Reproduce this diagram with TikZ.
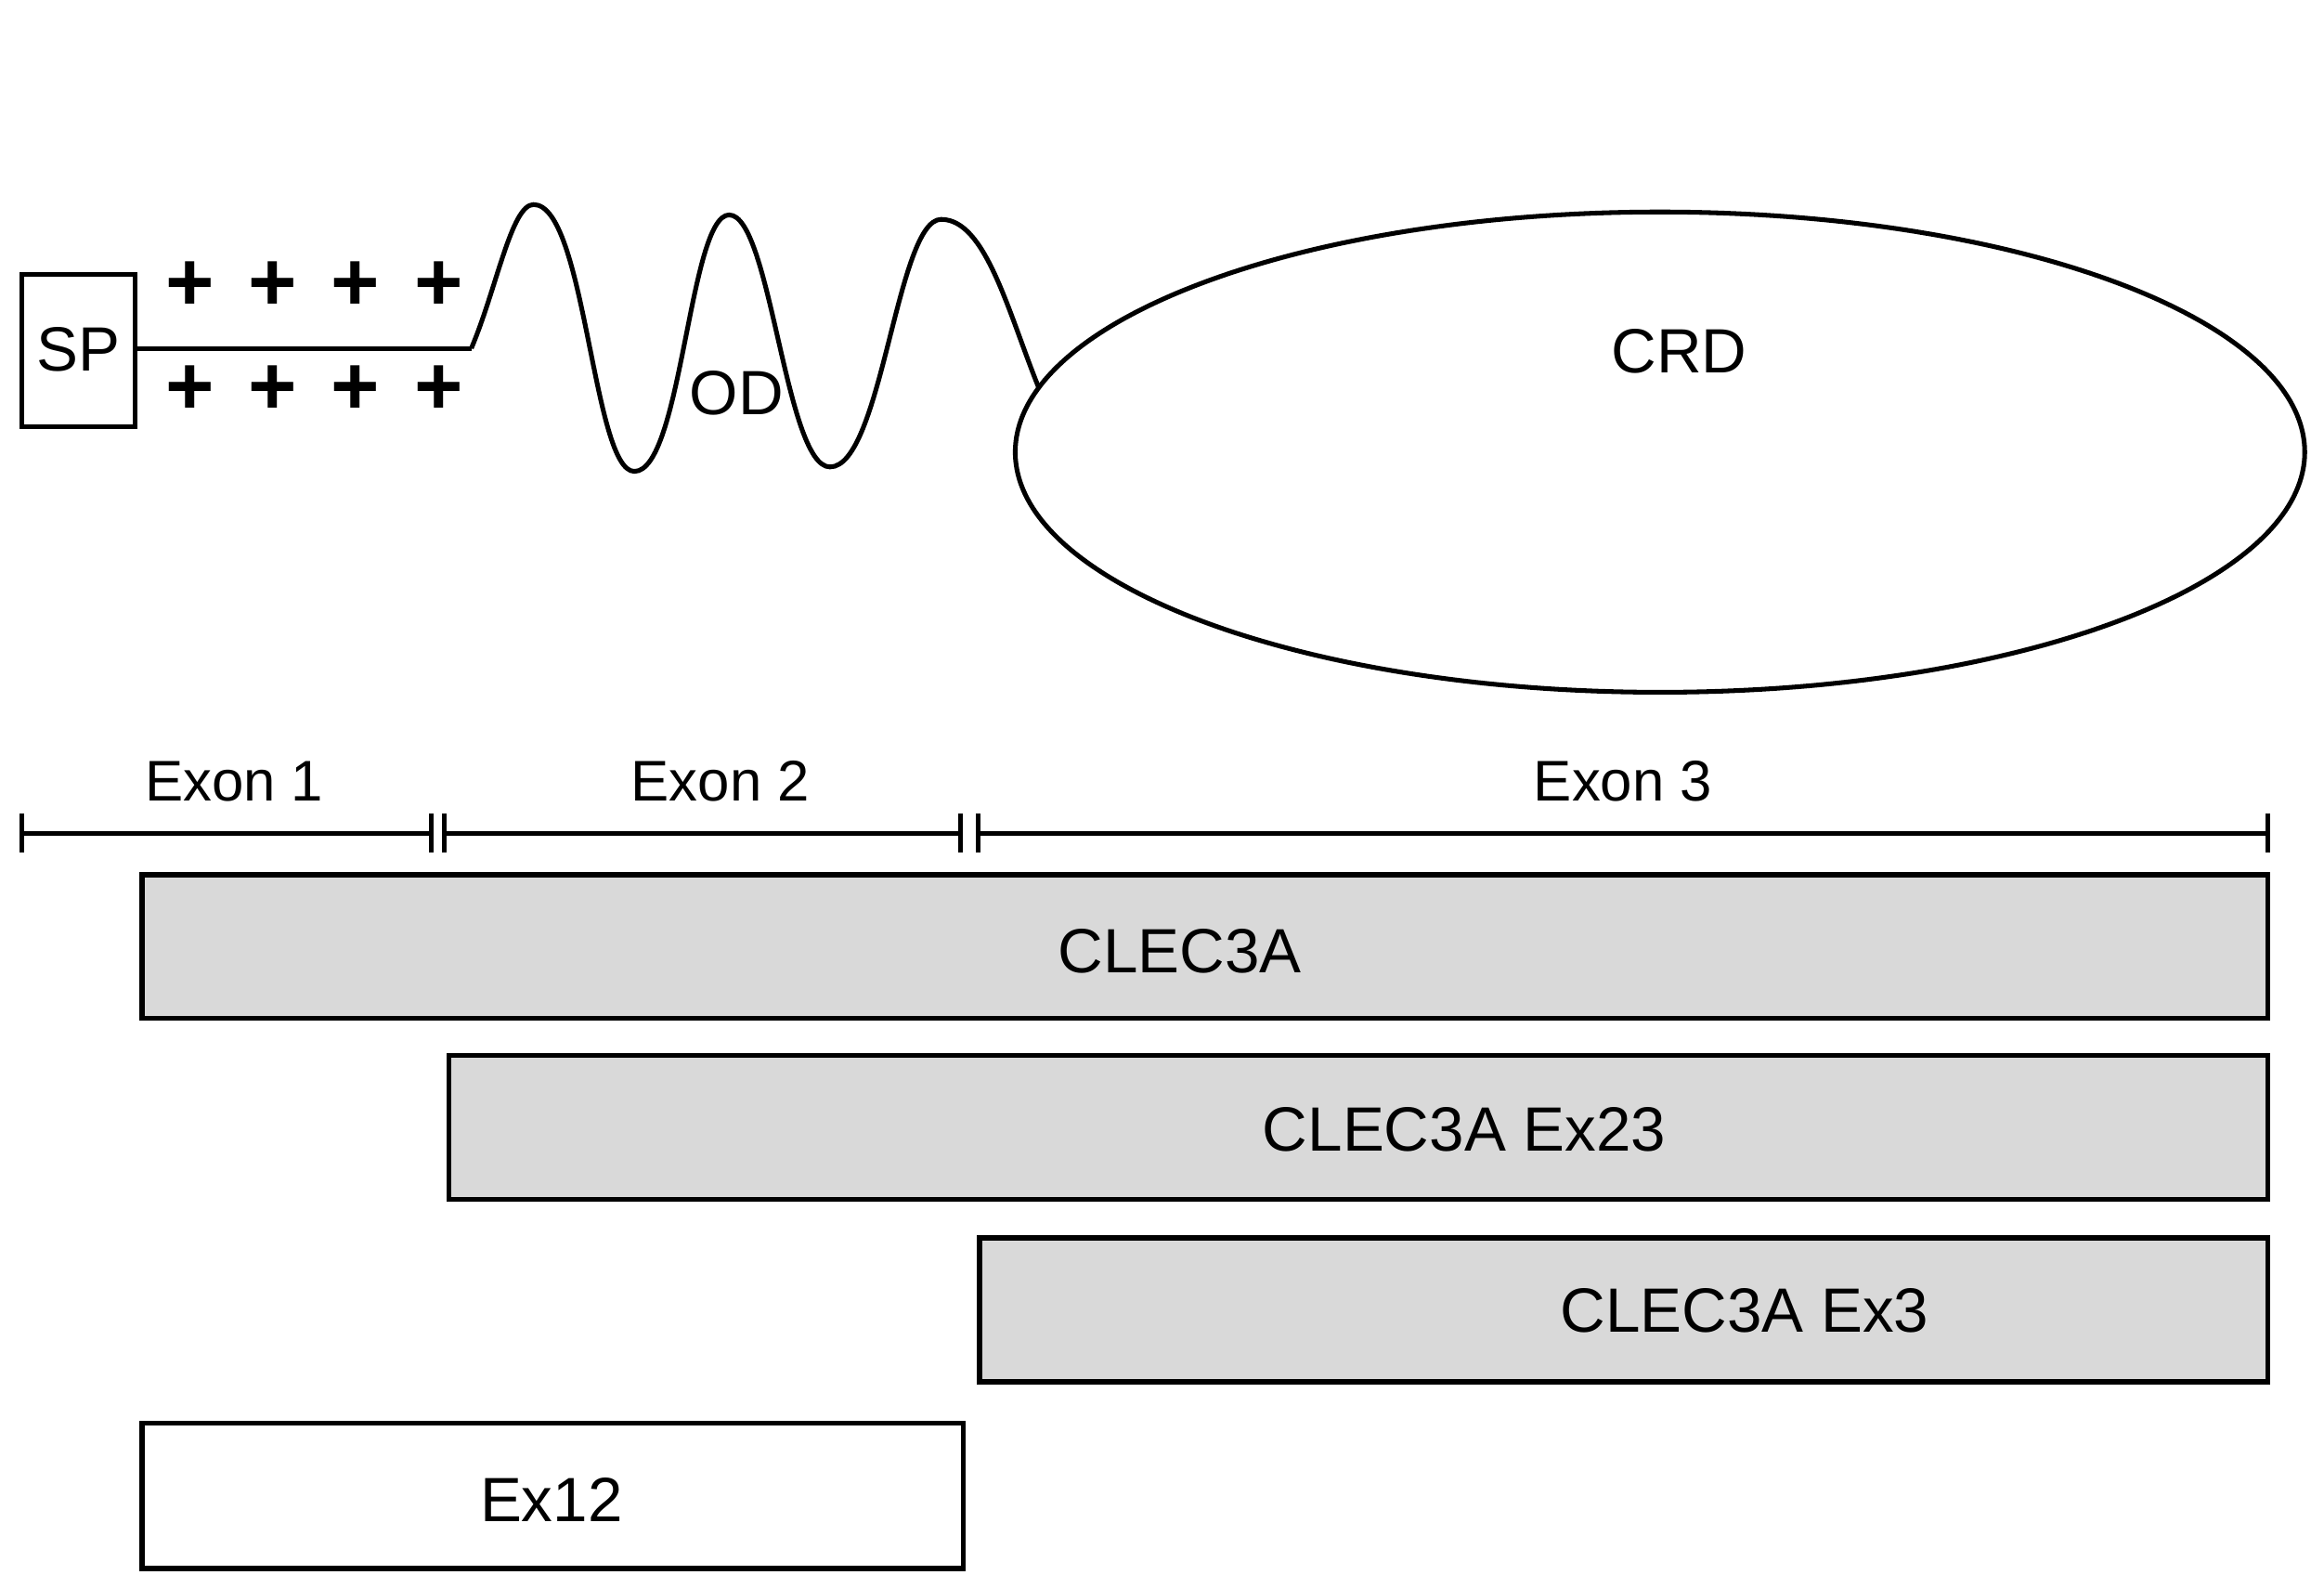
\documentclass[tikz,border=0pt]{standalone}
\usepackage{fontspec}
\setmainfont{Liberation Sans}
\begin{document}
\begin{tikzpicture}[x=0.01cm,y=-0.01cm,line width=0.9pt,
  gbox/.style={draw,fill=gray!30,line width=1pt},
  wbox/.style={draw,fill=white,line width=1pt},
  lbl/.style={font=\fontsize{12}{14}\selectfont},
  elbl/.style={font=\fontsize{11}{13}\selectfont},
  plus/.style={font=\fontsize{16}{18}\selectfont\bfseries}]
\useasboundingbox (0,0) rectangle (1568,1071);
% SP
\draw (15,185) rectangle (91,288);
\node[lbl] (sp) at (53,236) {SP};
\coordinate (l0) at (91,235);
\coordinate (l1) at (318,235);
\draw (l0) -- (l1);
\foreach \x in {128,184,240,296}{
  \node[plus] at (\x,193) {+};
  \node[plus] at (\x,263) {+};}
% wave
\draw (l1) .. controls (335,195) and (345,138) .. (360,138)
  .. controls (395,138) and (400,318) .. (428,318)
  .. controls (460,318) and (465,145) .. (492,145)
  .. controls (520,145) and (530,315) .. (560,315)
  .. controls (595,315) and (605,148) .. (635,148)
  .. controls (665,148) and (680,210) .. (701,262);
\node[lbl] (od) at (497,265) {OD};
\draw (1120,305) ellipse [x radius=435, y radius=162];
\node[lbl] (crd) at (1133,237) {CRD};
% exon scale
\foreach \a/\b in {15/291,300/648,660/1530}{
  \draw (\a,562) -- (\b,562);
  \draw (\a,549) -- (\a,575);
  \draw (\b,549) -- (\b,575);}
\node[elbl] (e1) at (158,527) {Exon 1};
\node[elbl] (e2) at (486,527) {Exon 2};
\node[elbl] (e3) at (1095,527) {Exon 3};
% boxes
\draw[gbox] (96,590) rectangle (1530,687);
\node[lbl] (c1) at (796,642) {CLEC3A};
\draw[gbox] (303,712) rectangle (1530,809);
\node[lbl] (c2) at (988,762) {CLEC3A Ex23};
\draw[gbox] (661,835) rectangle (1530,932);
\node[lbl] (c3) at (1177,884) {CLEC3A Ex3};
\draw[wbox] (96,960) rectangle (650,1058);
\node[lbl] (c4) at (372,1012) {Ex12};
\end{tikzpicture}
\end{document}
